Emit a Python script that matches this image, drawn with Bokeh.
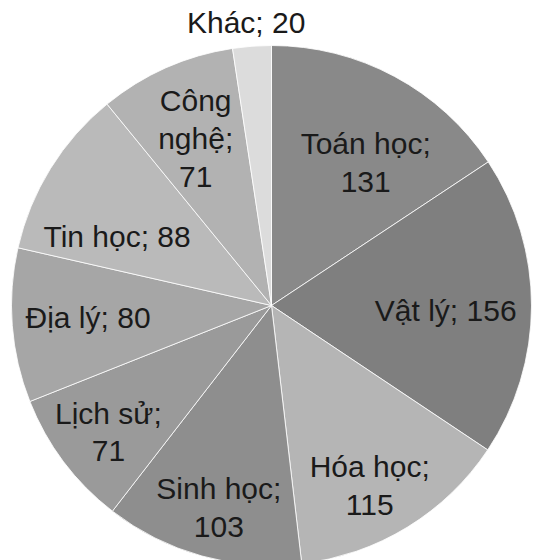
import math
from bokeh.plotting import figure
from bokeh.models import Range1d, ColumnDataSource
from bokeh.core.properties import value
from bokeh.embed import file_html
from bokeh.resources import INLINE

subjects = ["Toán học", "Vật lý", "Hóa học", "Sinh học", "Lịch sử", "Địa lý", "Tin học", "Công nghệ", "Khác"]
counts = [131, 156, 115, 103, 71, 80, 88, 71, 20]
label_texts = ["Toán học;\n131", "Vật lý; 156", "Hóa học;\n115", "Sinh học;\n103", "Lịch sử;\n71",
               "Địa lý; 80", "Tin học; 88", "Công\nnghệ;\n71", "Khác; 20"]
colors = ["#898989", "#7f7f7f", "#b5b5b5", "#8e8e8e", "#9a9a9a", "#a6a6a6", "#bababa", "#b2b2b2", "#dcdcdc"]
# label placement: fraction of radius along mid-angle, plus small pixel nudges (screen x, screen y down)
label_r = [0.66, 0.67, 0.79, 0.80, 0.79, 0.70, 0.64, 0.70, 1.09]
label_dx = [13, 0, -9, 3, 1, -2, -13, -2, -4]
label_dy = [8, 5, 5, 2, 3, -2, 19, -1, 0]

W, H = 534, 560
cx, cy, R = 271, 255, 260

total = sum(counts)
starts, ends, lx, ly = [], [], [], []
cum = 0.0
for c, rf, ddx, ddy in zip(counts, label_r, label_dx, label_dy):
    a0 = cum / total * 2 * math.pi
    cum += c
    a1 = cum / total * 2 * math.pi
    starts.append(math.pi / 2 - a1)
    ends.append(math.pi / 2 - a0)
    mid = (a0 + a1) / 2
    lx.append(cx + rf * R * math.sin(mid) + ddx)
    ly.append(cy + rf * R * math.cos(mid) - ddy)

src = ColumnDataSource(dict(subject=subjects, count=counts, start=starts, end=ends,
                            color=colors, lx=lx, ly=ly, label=label_texts))

p = figure(width=W, height=H, output_backend="svg", toolbar_location=None,
           x_range=Range1d(0, W), y_range=Range1d(0, H), min_border=0)
p.axis.visible = False
p.grid.visible = False
p.outline_line_color = None
p.background_fill_color = "white"
p.border_fill_color = "white"

p.wedge(x=cx, y=cy, radius=R, start_angle="start", end_angle="end", direction="anticlock",
        fill_color="color", line_color="white", line_width=1, line_alpha=0.8, source=src)

p.text(x="lx", y="ly", text="label", source=src, text_align="center", text_baseline="middle",
       text_font=value("Liberation Sans"), text_font_size="30px", text_color="#1a1a1a",
       text_line_height=1.15)

open("out.html", "w").write(file_html(p, INLINE))
